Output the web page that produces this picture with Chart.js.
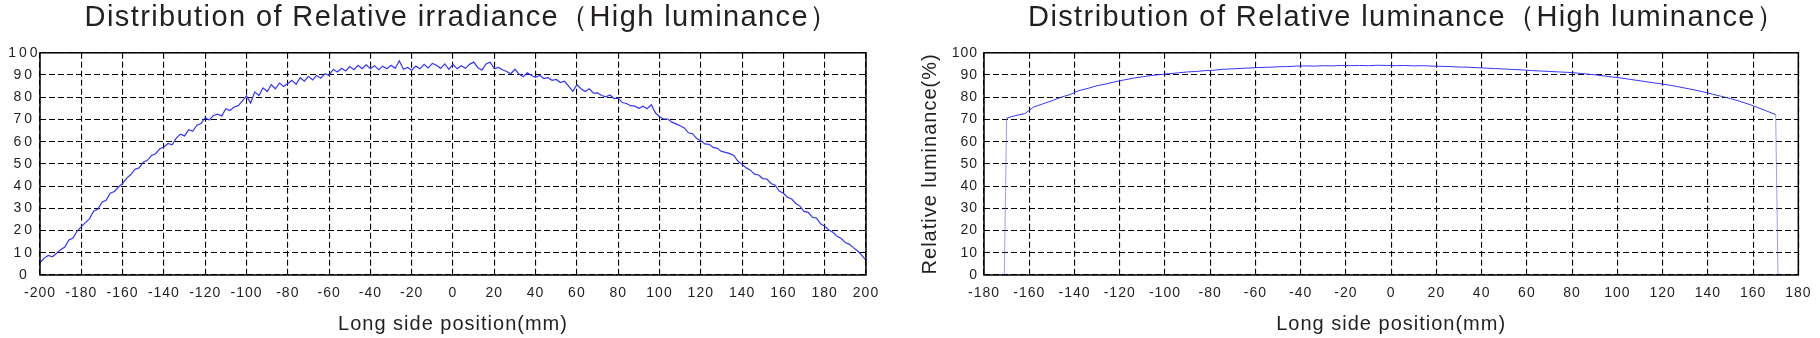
<!DOCTYPE html>
<html>
<head>
<meta charset="utf-8">
<script src="https://cdn.jsdelivr.net/npm/chart.js@4.4.1/dist/chart.umd.min.js"></script>
<style>
  html, body { margin: 0; padding: 0; background: #fff; }
  #wrap { display: flex; width: 1820px; height: 338px; }
  .box { position: relative; width: 910px; height: 338px; }
</style>
</head>
<body>
<div id="wrap">
  <div class="box"><canvas id="irrChart"></canvas></div>
  <div class="box"><canvas id="lumChart"></canvas></div>
</div>
<script>
function range(from, to, step) {
  const out = [];
  for (let v = from; v <= to; v += step) out.push(v);
  return out;
}

// irradiance, sampled every 2 mm from -200 to 200
const irrPos = range(-200, 200, 2);
const irrVals = [
  5.5, 7.6, 8.8, 8.2, 9.8, 11.4, 12.6, 15.8, 16.6, 19.8,
  21.8, 23.6, 25.4, 28.8, 29.6, 32.8, 33.6, 36.8, 37.6, 39.6,
  41.2, 43.6, 45.2, 47.6, 48.2, 50.8, 51.6, 53.8, 54.6, 56.8,
  57.6, 59.2, 58.6, 61.6, 63.4, 62.6, 65.4, 64.8, 67.4, 68.2,
  70.8, 69.8, 71.8, 72.4, 71.6, 74.8, 74.0, 75.6, 76.2, 78.4,
  80.6, 77.4, 82.4, 80.8, 84.2, 82.6, 85.6, 83.8, 86.4, 84.8,
  86.2, 87.6, 85.8, 88.8, 87.2, 89.4, 87.8, 89.8, 88.6, 90.6,
  89.8, 92.6, 91.4, 93.0, 91.8, 93.8, 92.4, 94.4, 92.8, 94.6,
  92.8, 94.2, 92.4, 94.0, 92.8, 94.4, 93.0, 96.4, 92.6, 93.4,
  92.2, 94.0, 92.8, 94.8, 93.2, 95.2, 94.4, 93.0, 95.0, 92.6,
  94.8, 92.8, 94.2, 93.0, 94.8, 95.8, 93.4, 92.2, 95.0, 95.8,
  92.8, 93.4, 92.4, 91.6, 90.6, 92.6, 90.4, 89.2, 91.0, 89.8,
  89.0, 89.8, 88.4, 88.8, 87.6, 88.0, 86.6, 87.2, 85.0, 82.6,
  85.6, 83.8, 82.6, 83.8, 81.8, 82.0, 80.8, 80.2, 81.0, 79.4,
  79.6, 77.6, 77.2, 76.2, 76.0, 75.0, 76.0, 74.8, 76.6, 73.0,
  71.2, 70.2, 70.2, 68.8, 68.0, 67.2, 66.2, 64.0, 63.6, 61.4,
  60.4, 59.0, 58.8, 57.4, 57.0, 55.6, 55.2, 54.6, 53.8, 51.2,
  49.8, 48.2, 47.2, 45.4, 45.0, 43.4, 43.2, 41.2, 40.4, 37.8,
  36.8, 35.0, 34.2, 32.2, 31.0, 28.6, 28.2, 26.0, 25.6, 23.0,
  22.0, 20.2, 19.2, 17.4, 16.4, 14.6, 13.8, 12.2, 10.8, 8.8, 6.6
];

// luminance, every 4 mm from -170 to 170, with the lit edge at +/-171
const lumPos = [-171].concat(range(-170, 170, 4), [171]);
const lumVals = [
  0,
  70.6, 71.8, 72.6, 75.6, 77.0, 78.4, 80.0, 81.2, 83.0, 84.0,
  85.2, 86.0, 87.0, 87.8, 88.6, 89.2, 89.8, 90.2, 90.6, 91.0,
  91.4, 91.6, 92.0, 92.2, 92.6, 92.8, 93.0, 93.2, 93.4, 93.5,
  93.7, 93.8, 94.0, 94.1, 94.0, 94.2, 94.1, 94.3, 94.2, 94.3,
  94.2, 94.4, 94.3, 94.2, 94.3, 94.1, 94.2, 94.0, 93.9, 93.8,
  93.6, 93.5, 93.3, 93.1, 92.9, 92.7, 92.5, 92.3, 92.0, 91.8,
  91.6, 91.4, 91.2, 90.9, 90.5, 90.1, 89.6, 89.1, 88.6, 88.0,
  87.4, 86.8, 86.2, 85.6, 84.9, 84.1, 83.3, 82.4, 81.4, 80.4,
  79.4, 78.2, 76.9, 75.4, 73.8, 72.2,
  0
];

const yTicks = [0, 10, 20, 30, 40, 50, 60, 70, 80, 90, 100];
const irrTicks = range(-200, 200, 20);
const lumTicks = range(-180, 180, 20);

const FONT = "'Liberation Sans', Arial, sans-serif";
const INK = '#231f20';
const LINE = 'rgb(52,52,255)';

// run a draw method with a given canvas letter spacing (and optional x shift)
function spaced(obj, name, px, dx) {
  if (!obj || obj['_sp_' + name]) return;
  const orig = obj[name];
  obj[name] = function () {
    const ctx = this.ctx;
    const prev = ctx.letterSpacing;
    ctx.save();
    if (dx) ctx.translate(dx, 0);
    ctx.letterSpacing = px;
    const r = orig.apply(this, arguments);
    ctx.restore();
    ctx.letterSpacing = prev;
    return r;
  };
  obj['_sp_' + name] = true;
}

const spacing = {
  id: 'spacing',
  afterLayout(chart, args, opts) {
    spaced(chart.titleBlock, 'draw', opts.title, opts.titleShift);
    spaced(chart.scales.x, 'drawLabels', opts.xTicks);
    spaced(chart.scales.x, 'drawTitle', opts.axisTitle);
    spaced(chart.scales.y, 'drawLabels', opts.yTicks);
    spaced(chart.scales.y, 'drawTitle', opts.axisTitle);
  }
};

const frame = {
  id: 'frame',
  afterDraw(chart) {
    const { ctx, chartArea: a } = chart;
    ctx.save();
    ctx.strokeStyle = '#000';
    ctx.lineWidth = 1.5;
    ctx.strokeRect(a.left, a.top, a.right - a.left, a.bottom - a.top);
    ctx.restore();
  }
};

function makeChart(id, opts) {
  const pts = opts.pos.map((x, i) => ({ x: x, y: opts.vals[i] }));
  const last = pts.length - 2;
  return new Chart(document.getElementById(id), {
    type: 'line',
    data: {
      datasets: [{
        data: pts,
        borderColor: LINE,
        borderWidth: opts.lineWidth,
        pointRadius: 0,
        tension: 0,
        fill: false,
        segment: {
          // the vertical edges at the ends are drawn fainter
          borderColor: c => (opts.edges && (c.p0DataIndex === 0 || c.p0DataIndex === last))
            ? 'rgba(90,90,255,0.6)' : undefined
        }
      }]
    },
    options: {
      responsive: true,
      maintainAspectRatio: false,
      animation: false,
      layout: { padding: { left: 0, right: opts.padRight, top: 0, bottom: 0 } },
      plugins: {
        legend: { display: false },
        tooltip: { enabled: false },
        spacing: {
          title: '1.4px',
          titleShift: opts.titleShift,
          xTicks: '1px',
          yTicks: opts.ySpacing,
          axisTitle: '1px'
        },
        title: {
          display: true,
          text: opts.title,
          fullSize: false,
          color: INK,
          font: { family: FONT, size: 29, weight: 'normal' },
          padding: { top: 1, bottom: 17 }
        }
      },
      scales: {
        x: {
          type: 'linear',
          min: opts.ticks[0],
          max: opts.ticks[opts.ticks.length - 1],
          afterBuildTicks: s => { s.ticks = opts.ticks.map(v => ({ value: v })); },
          afterFit: s => { s.height = 63; },
          grid: { color: '#000', lineWidth: 1.1, drawTicks: false },
          border: { display: false, dash: [6, 3] },
          ticks: {
            color: INK,
            autoSkip: false,
            maxRotation: 0,
            padding: 10,
            font: { family: FONT, size: 14 }
          },
          title: {
            display: true,
            text: 'Long side position(mm)',
            color: INK,
            font: { family: FONT, size: 20 },
            padding: { top: 0, bottom: 2 }
          }
        },
        y: {
          min: 0,
          max: 100,
          afterBuildTicks: s => { s.ticks = yTicks.map(v => ({ value: v })); },
          afterFit: s => { s.width = opts.yWidth; },
          grid: { color: '#000', lineWidth: 1.1, drawTicks: false },
          border: { display: false, dash: [6, 3] },
          ticks: {
            color: INK,
            padding: opts.yPad,
            crossAlign: opts.yAlign,
            font: { family: FONT, size: 14 }
          },
          title: {
            display: !!opts.yTitle,
            text: opts.yTitle || '',
            color: INK,
            font: { family: FONT, size: 20 },
            padding: { top: 8, bottom: 0 }
          }
        }
      }
    },
    plugins: [spacing, frame]
  });
}

makeChart('irrChart', {
  pos: irrPos,
  vals: irrVals,
  ticks: irrTicks,
  title: 'Distribution of Relative irradiance（High luminance）',
  titleShift: 9,
  padRight: 44,
  yWidth: 40,
  yPad: 4,
  yAlign: 'center',
  ySpacing: '3px',
  lineWidth: 1.2,
  edges: false
});

makeChart('lumChart', {
  pos: lumPos,
  vals: lumVals,
  ticks: lumTicks,
  title: 'Distribution of Relative luminance（High luminance）',
  titleShift: 16,
  padRight: 14,
  yWidth: 74,
  yPad: 6,
  yAlign: 'near',
  ySpacing: '1px',
  yTitle: 'Relative luminance(%)',
  lineWidth: 1,
  edges: true
});
</script>
</body>
</html>
